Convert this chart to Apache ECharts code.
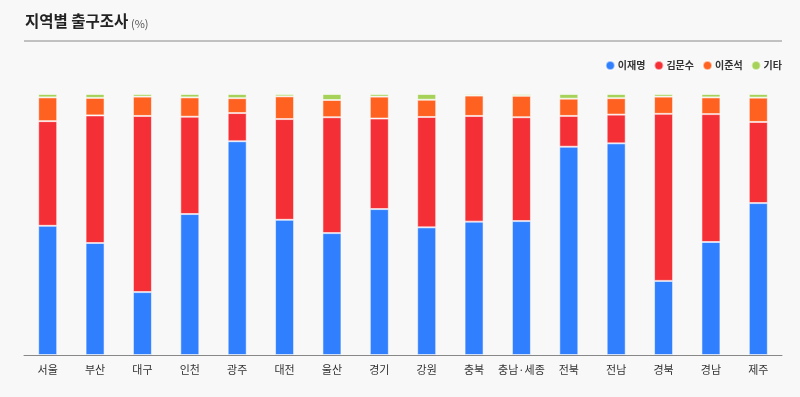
<!DOCTYPE html>
<html>
<head>
<meta charset="utf-8">
<script src="https://cdn.jsdelivr.net/npm/echarts@6/dist/echarts.min.js"></script>
<style>
  html, body { margin: 0; padding: 0; background: #f8f8f8; }
  #chart { width: 800px; height: 397px; }
</style>
</head>
<body>
<div id="chart"></div>
<script>
// 지역 목록
var regions = ["서울", "부산", "대구", "인천", "광주", "대전", "울산", "경기",
  "강원", "충북", "충남·세종", "전북", "전남", "경북", "경남", "제주"];
// 후보별 득표율 (%)
var leeJM = [49.5, 42.9, 24.1, 54.0, 81.9, 51.8, 46.7, 55.9, 48.9, 51.1, 51.3, 79.8, 81.1, 28.4, 43.3, 58.2];
var kimMS = [40.1, 48.9, 67.5, 37.3, 10.8, 38.6, 44.4, 34.7, 42.3, 40.5, 39.8, 11.8, 11.0, 64.0, 49.0, 31.1];
var leeJS = [9.1, 6.7, 7.4, 7.4, 5.7, 8.7, 6.6, 8.4, 6.6, 7.8, 8.2, 6.6, 6.3, 6.6, 6.4, 9.3];
var others = [1.3, 1.5, 1.0, 1.3, 1.6, 0.9, 2.3, 1.0, 2.2, 0.6, 0.7, 1.8, 1.6, 1.0, 1.3, 1.4];

var names = ["이재명", "김문수", "이준석", "기타"];
var colors = ["#2f7ffe", "#f43036", "#ff6120", "#a6d25a"];
var seriesData = [leeJM, kimMS, leeJS, others];

var myChart = echarts.init(document.getElementById("chart"));

var series = seriesData.map(function (d, i) {
  return {
    name: names[i],
    type: "bar",
    stack: "total",
    barWidth: 19,
    itemStyle: {
      color: colors[i],
      borderColor: "rgba(255,255,255,0.55)",
      borderWidth: 1
    },
    data: d
  };
});

var option = {
  backgroundColor: "#f8f8f8",
  textStyle: { fontFamily: "Noto Sans CJK KR" },
  graphic: [
    {
      type: "text",
      left: 25,
      top: 13,
      style: {
        text: "지역별 출구조사",
        font: "bold 15.5px 'Noto Sans CJK KR'",
        fill: "#222"
      }
    },
    {
      type: "text",
      left: 131,
      top: 18,
      style: {
        text: "(%)",
        font: "11px 'Noto Sans CJK KR'",
        fill: "#555"
      }
    },
    {
      type: "line",
      shape: { x1: 24, y1: 41, x2: 782, y2: 41 },
      style: { stroke: "#8a8a8a", lineWidth: 1 }
    }
  ],
  legend: {
    right: 13,
    top: 55,
    icon: "circle",
    itemWidth: 9,
    itemHeight: 9,
    itemGap: 8,
    textStyle: { fontSize: 10, color: "#333", fontWeight: "bold", padding: [0, 0, 0, -2] },
    data: names
  },
  grid: {
    left: 24,
    right: 18,
    top: 94,
    bottom: 42
  },
  xAxis: {
    type: "category",
    data: regions,
    axisLine: { lineStyle: { color: "#888" } },
    axisTick: { show: false },
    axisLabel: {
      color: "#333",
      fontSize: 11,
      margin: 9,
      interval: 0
    }
  },
  yAxis: {
    type: "value",
    min: 0,
    max: 100,
    show: false
  },
  series: series
};

myChart.setOption(option);
</script>
</body>
</html>
